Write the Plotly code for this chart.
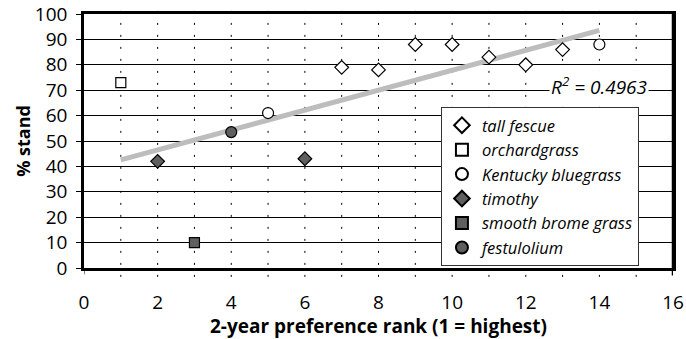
import numpy as np
import plotly.graph_objects as go

# ---- data ----
series_names = ["tall fescue", "orchardgrass", "Kentucky bluegrass",
                "timothy", "smooth brome grass", "festulolium"]
tall_fescue_x = [7, 8, 9, 10, 11, 12, 13]
tall_fescue_y = [79, 78, 88, 88, 83, 80, 86]
orchardgrass_x = [1]
orchardgrass_y = [73]
kentucky_x = [5, 14]
kentucky_y = [61, 88]
timothy_x = [2, 6]
timothy_y = [42, 43]
brome_x = [3]
brome_y = [10]
festulolium_x = [4]
festulolium_y = [53.5]
x_ticks = [0, 2, 4, 6, 8, 10, 12, 14, 16]
y_ticks = [0, 10, 20, 30, 40, 50, 60, 70, 80, 90, 100]
r2_label = "R<sup>2</sup> = 0.4963"

FONT = "Open Sans"
DARK = "#5f5f5f"

styles = [
    ("diamond", "white", 10.5),
    ("square", "white", 10),
    ("circle", "white", 11),
    ("diamond", DARK, 10.5),
    ("square", DARK, 10),
    ("circle", DARK, 11),
]
xs = [tall_fescue_x, orchardgrass_x, kentucky_x, timothy_x, brome_x, festulolium_x]
ys = [tall_fescue_y, orchardgrass_y, kentucky_y, timothy_y, brome_y, festulolium_y]

fig = go.Figure()

# trendline over all points
all_x = np.concatenate([np.array(a, float) for a in xs])
all_y = np.concatenate([np.array(a, float) for a in ys])
slope, intercept = np.polyfit(all_x, all_y, 1)
tx = np.array([all_x.min(), all_x.max()])
fig.add_trace(go.Scatter(x=tx, y=slope * tx + intercept, mode="lines",
                         line=dict(color="#bdbdbd", width=5),
                         showlegend=False, hoverinfo="skip"))

for name, x, y, (sym, col, sz) in zip(series_names, xs, ys, styles):
    fig.add_trace(go.Scatter(
        x=x, y=y, mode="markers", name=name,
        marker=dict(symbol=sym, color=col, size=sz,
                    line=dict(color="black", width=1.2)),
    ))

# vertical dashed grid lines at each integer
shapes = []
for v in range(1, 16):
    shapes.append(dict(type="line", xref="x", yref="paper", x0=v, x1=v,
                       y0=-0.035, y1=1.035,
                       line=dict(color="black", width=1, dash="2px,10px"),
                       layer="below"))
# right border extension + x-axis end ticks
shapes.append(dict(type="line", xref="x", yref="paper", x0=16, x1=16,
                   y0=-0.03, y1=1, line=dict(color="black", width=2.5)))
shapes.append(dict(type="line", xref="x", yref="paper", x0=0, x1=0,
                   y0=-0.025, y1=0, line=dict(color="black", width=1)))

fig.update_layout(
    width=686, height=339,
    margin=dict(l=84, r=13, t=14, b=71, autoexpand=False),
    paper_bgcolor="white", plot_bgcolor="white",
    font=dict(family=FONT, color="black", size=19),
    shapes=shapes,
    showlegend=True,
    legend=dict(x=0.606, y=0.634, xanchor="left", yanchor="top",
                bgcolor="white", bordercolor="#333333", borderwidth=1,
                font=dict(family=FONT, size=16.5, style="italic"),
                itemsizing="constant", tracegroupgap=0),
    annotations=[dict(x=14.0, y=71.8, xref="x", yref="y", text="<i>" + r2_label + "</i>",
                      showarrow=False, bgcolor="white",
                      font=dict(family=FONT, size=19))],
)
fig.update_xaxes(range=[0, 16], tickvals=x_ticks, ticks="", showgrid=False,
                 showline=True, linecolor="black", linewidth=2.5, mirror=True,
                 zeroline=False, automargin=False, ticklabeloverflow="allow",
                 title=dict(text="<b>2-year preference rank (1 = highest)</b>",
                            font=dict(size=19), standoff=17),
                 ticklabelstandoff=15)
fig.update_yaxes(range=[0, 100], tickvals=y_ticks, ticks="outside", ticklen=5,
                 tickcolor="black", tickwidth=1,
                 showgrid=True, gridcolor="black", gridwidth=1,
                 showline=True, linecolor="black", linewidth=2.5, mirror=True,
                 zeroline=False, automargin=False, ticklabelstandoff=5,
                 ticklabeloverflow="allow",
                 title=dict(text="<b>% stand</b>", font=dict(size=18), standoff=0))

# remove the default 8px page margin so the figure sits at the window origin
fig.write_html("out.html", config={"displayModeBar": False},
               post_script="document.body.style.margin='0';")
